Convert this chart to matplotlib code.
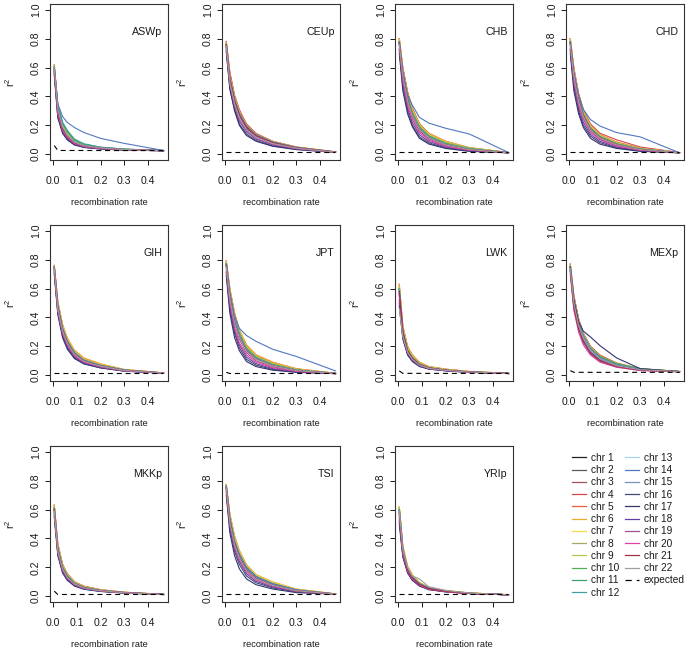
import matplotlib
matplotlib.use("Agg")
import matplotlib.pyplot as plt
from matplotlib.lines import Line2D

plt.rcParams["font.family"] = ["Liberation Sans", "DejaVu Sans"]

RATES = [0.005, 0.02, 0.04, 0.06, 0.09, 0.13, 0.2, 0.3, 0.465]
EXP_RATES = [0.005, 0.02, 0.465]

CHR_LABELS = [f"chr {i}" for i in range(1, 23)]
CHR_COLORS = [
    "#222222", "#5a5a5a", "#a05058", "#d84848", "#e8603c", "#f0a830",
    "#f2dc48", "#a8a862", "#b4cc50", "#50b050", "#3fa070", "#40a0a0",
    "#a4d2f0", "#5078c0", "#7890c0", "#404878", "#34346e", "#6040a0",
    "#a05090", "#e040a0", "#a03048", "#a0a0a0",
]

POPS = ["ASWp", "CEUp", "CHB", "CHD", "GIH", "JPT", "LWK", "MEXp",
        "MKKp", "TSI", "YRIp"]

# r^2 per chromosome (rows chr 1..22), columns follow RATES
ASWP = [
    [.59, .30, .18, .12, .08, .056, .041, .032, .025],
    [.58, .29, .17, .12, .077, .055, .041, .031, .025],
    [.60, .31, .19, .13, .083, .058, .043, .032, .025],
    [.61, .32, .20, .14, .088, .061, .045, .033, .025],
    [.62, .33, .20, .14, .09, .062, .045, .033, .025],
    [.62, .33, .21, .15, .092, .063, .046, .034, .026],
    [.60, .31, .19, .13, .085, .06, .044, .033, .025],
    [.59, .31, .19, .135, .087, .06, .044, .033, .025],
    [.60, .32, .20, .145, .092, .064, .046, .034, .025],
    [.60, .33, .21, .155, .098, .068, .047, .035, .026],
    [.61, .34, .22, .16, .10, .07, .048, .035, .026],
    [.60, .34, .22, .165, .105, .072, .049, .035, .026],
    [.58, .30, .18, .125, .08, .057, .042, .032, .025],
    [.60, .35, .26, .22, .185, .15, .11, .075, .026],
    [.59, .30, .185, .13, .083, .058, .043, .032, .025],
    [.56, .26, .15, .10, .066, .048, .037, .029, .024],
    [.55, .25, .145, .10, .064, .047, .036, .029, .024],
    [.57, .27, .16, .11, .07, .05, .038, .03, .024],
    [.58, .29, .175, .12, .078, .055, .041, .031, .025],
    [.57, .28, .165, .115, .075, .053, .04, .031, .025],
    [.59, .30, .18, .125, .082, .058, .043, .032, .025],
    [.60, .31, .19, .13, .084, .059, .043, .032, .025],
]
CEUP = [
    [.76, .52, .37, .27, .185, .128, .08, .044, .015],
    [.75, .51, .36, .265, .18, .125, .078, .043, .015],
    [.77, .54, .39, .29, .195, .135, .085, .047, .015],
    [.78, .57, .41, .31, .21, .145, .09, .05, .016],
    [.78, .56, .40, .30, .205, .14, .088, .049, .016],
    [.77, .55, .40, .30, .20, .14, .09, .05, .016],
    [.76, .53, .38, .28, .19, .13, .083, .046, .015],
    [.76, .53, .38, .28, .19, .132, .084, .047, .015],
    [.77, .54, .385, .285, .195, .135, .086, .048, .015],
    [.76, .52, .37, .275, .19, .13, .082, .046, .015],
    [.75, .52, .37, .27, .185, .128, .08, .045, .015],
    [.75, .51, .36, .265, .18, .125, .078, .044, .015],
    [.74, .50, .35, .26, .175, .12, .075, .042, .014],
    [.76, .53, .38, .285, .195, .135, .085, .047, .015],
    [.75, .51, .36, .265, .18, .125, .078, .044, .015],
    [.72, .46, .31, .21, .14, .095, .058, .034, .013],
    [.71, .45, .30, .20, .13, .09, .055, .032, .013],
    [.73, .48, .33, .23, .155, .105, .065, .037, .014],
    [.75, .51, .36, .26, .175, .12, .075, .042, .014],
    [.74, .49, .34, .245, .165, .112, .07, .04, .014],
    [.76, .52, .37, .27, .185, .128, .08, .045, .015],
    [.75, .50, .35, .255, .17, .118, .074, .042, .014],
]
CHB = [
    [.78, .56, .39, .28, .18, .12, .07, .035, .01],
    [.77, .55, .38, .275, .175, .118, .068, .034, .01],
    [.79, .58, .41, .30, .195, .13, .078, .038, .011],
    [.80, .60, .43, .32, .21, .14, .085, .042, .012],
    [.80, .60, .43, .32, .21, .145, .09, .045, .012],
    [.80, .59, .42, .315, .205, .142, .09, .046, .012],
    [.79, .58, .41, .305, .20, .135, .083, .042, .011],
    [.78, .57, .40, .295, .195, .13, .08, .045, .011],
    [.79, .58, .41, .30, .198, .133, .082, .042, .011],
    [.78, .57, .40, .29, .19, .127, .076, .038, .011],
    [.77, .56, .39, .285, .185, .123, .073, .036, .01],
    [.77, .55, .385, .28, .18, .12, .07, .035, .01],
    [.76, .54, .375, .27, .175, .115, .067, .033, .01],
    [.78, .57, .41, .34, .255, .215, .18, .14, .012],
    [.77, .55, .38, .275, .178, .118, .069, .034, .01],
    [.72, .47, .30, .20, .12, .078, .044, .022, .01],
    [.70, .44, .28, .19, .11, .07, .04, .02, .01],
    [.73, .49, .32, .22, .135, .088, .05, .025, .01],
    [.76, .53, .36, .255, .16, .105, .06, .03, .01],
    [.75, .51, .34, .24, .15, .097, .055, .028, .01],
    [.77, .55, .38, .27, .172, .113, .066, .033, .01],
    [.76, .54, .37, .265, .17, .112, .065, .032, .01],
]
CHD = [
    [.78, .56, .38, .275, .175, .117, .068, .034, .01],
    [.77, .55, .375, .27, .172, .115, .067, .033, .01],
    [.79, .58, .40, .29, .19, .127, .075, .037, .011],
    [.80, .60, .42, .31, .21, .145, .10, .05, .012],
    [.80, .59, .415, .305, .20, .135, .085, .042, .011],
    [.80, .59, .41, .30, .198, .133, .082, .041, .011],
    [.79, .58, .40, .29, .19, .128, .077, .038, .011],
    [.78, .57, .39, .285, .185, .125, .078, .04, .011],
    [.79, .575, .40, .29, .19, .127, .077, .038, .011],
    [.78, .56, .39, .28, .182, .122, .072, .036, .01],
    [.77, .55, .38, .275, .178, .12, .07, .035, .01],
    [.77, .55, .38, .272, .176, .118, .069, .034, .01],
    [.76, .54, .37, .265, .17, .113, .066, .033, .01],
    [.78, .57, .41, .31, .24, .195, .15, .12, .01],
    [.77, .55, .375, .27, .174, .116, .068, .034, .01],
    [.72, .47, .30, .20, .125, .08, .045, .022, .01],
    [.70, .44, .28, .185, .11, .07, .04, .02, .01],
    [.73, .49, .32, .22, .138, .09, .05, .025, .01],
    [.76, .53, .355, .25, .16, .105, .06, .03, .01],
    [.75, .51, .34, .24, .152, .10, .056, .028, .01],
    [.77, .55, .375, .27, .172, .115, .067, .033, .01],
    [.76, .54, .365, .262, .168, .112, .065, .032, .01],
]
GIH = [
    [.75, .48, .32, .23, .15, .10, .065, .035, .015],
    [.74, .47, .31, .225, .147, .098, .063, .034, .015],
    [.75, .49, .33, .24, .157, .105, .068, .036, .015],
    [.76, .50, .34, .25, .165, .11, .072, .038, .016],
    [.76, .51, .35, .255, .17, .115, .075, .039, .016],
    [.76, .51, .35, .26, .175, .12, .08, .04, .016],
    [.75, .50, .34, .25, .165, .11, .072, .038, .016],
    [.75, .49, .33, .24, .16, .107, .07, .037, .015],
    [.75, .49, .335, .245, .162, .108, .07, .037, .015],
    [.75, .48, .32, .235, .155, .103, .067, .036, .015],
    [.74, .48, .32, .23, .152, .10, .066, .035, .015],
    [.74, .47, .315, .228, .15, .10, .065, .035, .015],
    [.74, .47, .31, .225, .148, .098, .064, .034, .015],
    [.75, .48, .325, .235, .155, .104, .067, .036, .015],
    [.74, .47, .31, .225, .148, .098, .064, .034, .015],
    [.71, .43, .27, .19, .12, .08, .052, .029, .014],
    [.70, .42, .26, .18, .115, .078, .05, .028, .014],
    [.72, .44, .28, .20, .128, .085, .055, .03, .014],
    [.74, .46, .30, .215, .14, .093, .06, .032, .015],
    [.73, .45, .29, .21, .135, .09, .058, .031, .015],
    [.74, .47, .31, .225, .147, .098, .063, .034, .015],
    [.74, .46, .305, .22, .144, .096, .062, .033, .015],
]
JPT = [
    [.77, .56, .39, .28, .18, .12, .07, .035, .012],
    [.76, .55, .38, .275, .176, .118, .068, .034, .012],
    [.78, .58, .41, .30, .195, .13, .078, .039, .012],
    [.79, .59, .42, .31, .205, .137, .083, .042, .013],
    [.79, .60, .43, .31, .21, .14, .09, .045, .013],
    [.79, .60, .43, .315, .21, .142, .09, .045, .013],
    [.78, .58, .41, .30, .198, .132, .08, .04, .012],
    [.77, .57, .40, .29, .19, .128, .077, .039, .012],
    [.78, .58, .41, .30, .195, .13, .078, .04, .012],
    [.77, .57, .40, .29, .188, .125, .075, .038, .012],
    [.77, .56, .39, .285, .183, .122, .072, .036, .012],
    [.77, .56, .39, .28, .18, .12, .07, .035, .012],
    [.76, .55, .38, .27, .175, .116, .068, .034, .012],
    [.77, .57, .41, .325, .275, .235, .18, .13, .03],
    [.76, .55, .38, .275, .176, .117, .068, .034, .012],
    [.71, .46, .29, .19, .11, .07, .04, .022, .011],
    [.69, .43, .26, .17, .095, .06, .035, .02, .011],
    [.72, .48, .31, .21, .125, .08, .046, .025, .011],
    [.75, .53, .36, .25, .155, .10, .058, .03, .012],
    [.74, .50, .33, .225, .14, .09, .052, .027, .011],
    [.76, .54, .37, .265, .17, .113, .066, .033, .012],
    [.75, .53, .36, .26, .165, .11, .064, .032, .012],
]
LWK = [
    [.60, .30, .17, .12, .075, .05, .035, .022, .012],
    [.58, .29, .165, .115, .072, .049, .034, .022, .012],
    [.61, .31, .18, .125, .08, .053, .037, .023, .012],
    [.62, .33, .19, .135, .085, .057, .04, .025, .013],
    [.63, .34, .20, .14, .09, .06, .042, .026, .013],
    [.63, .34, .20, .14, .09, .06, .042, .026, .013],
    [.61, .32, .185, .13, .082, .055, .038, .024, .012],
    [.60, .31, .18, .125, .08, .053, .037, .023, .012],
    [.61, .32, .185, .13, .082, .055, .038, .024, .012],
    [.60, .31, .175, .122, .077, .052, .036, .023, .012],
    [.59, .30, .17, .12, .075, .05, .035, .022, .012],
    [.59, .30, .17, .12, .075, .05, .035, .022, .012],
    [.55, .28, .16, .112, .07, .047, .033, .021, .012],
    [.58, .30, .17, .12, .076, .051, .036, .023, .012],
    [.56, .29, .165, .115, .072, .049, .034, .022, .012],
    [.50, .26, .145, .10, .063, .044, .031, .02, .012],
    [.48, .25, .14, .095, .06, .042, .03, .02, .012],
    [.52, .27, .15, .105, .066, .045, .032, .021, .012],
    [.57, .29, .165, .115, .072, .049, .034, .022, .012],
    [.56, .28, .16, .11, .07, .047, .033, .021, .012],
    [.58, .30, .17, .118, .074, .05, .035, .022, .012],
    [.46, .27, .16, .11, .07, .048, .034, .022, .012],
]
MEXP = [
    [.75, .52, .36, .27, .18, .12, .07, .04, .025],
    [.74, .51, .355, .265, .177, .118, .069, .039, .025],
    [.76, .54, .38, .28, .19, .128, .075, .042, .025],
    [.77, .55, .39, .29, .20, .135, .08, .044, .026],
    [.77, .55, .39, .29, .20, .14, .085, .045, .026],
    [.76, .54, .38, .285, .195, .132, .078, .043, .025],
    [.76, .53, .37, .28, .19, .128, .076, .042, .025],
    [.75, .53, .37, .28, .19, .13, .08, .045, .026],
    [.76, .53, .37, .28, .19, .13, .078, .043, .025],
    [.75, .52, .365, .275, .188, .13, .08, .046, .026],
    [.75, .52, .36, .27, .185, .125, .075, .042, .025],
    [.75, .52, .36, .27, .183, .123, .073, .041, .025],
    [.74, .51, .35, .26, .175, .117, .068, .039, .025],
    [.75, .52, .36, .27, .18, .12, .07, .04, .025],
    [.74, .51, .355, .265, .178, .118, .069, .039, .025],
    [.73, .49, .34, .25, .165, .11, .065, .037, .025],
    [.75, .52, .37, .305, .265, .205, .12, .045, .025],
    [.73, .48, .33, .24, .16, .105, .062, .036, .024],
    [.72, .47, .32, .23, .15, .098, .058, .034, .024],
    [.70, .45, .30, .21, .14, .09, .055, .032, .024],
    [.72, .47, .32, .23, .152, .10, .06, .035, .024],
    [.74, .50, .345, .255, .17, .113, .066, .038, .025],
]
MKKP = [
    [.61, .33, .20, .14, .09, .06, .04, .025, .012],
    [.60, .32, .195, .137, .088, .059, .039, .025, .012],
    [.62, .34, .21, .147, .095, .064, .042, .026, .012],
    [.63, .36, .22, .155, .10, .07, .045, .028, .013],
    [.63, .36, .22, .153, .10, .068, .044, .027, .013],
    [.63, .355, .218, .152, .099, .067, .044, .027, .013],
    [.62, .345, .21, .148, .096, .065, .043, .026, .012],
    [.61, .34, .205, .145, .093, .063, .042, .026, .012],
    [.62, .345, .21, .147, .095, .064, .042, .026, .012],
    [.61, .335, .203, .142, .092, .062, .041, .025, .012],
    [.61, .33, .20, .14, .09, .06, .04, .025, .012],
    [.60, .33, .198, .138, .089, .06, .04, .025, .012],
    [.59, .32, .19, .133, .086, .058, .039, .024, .012],
    [.60, .32, .195, .135, .087, .059, .039, .025, .012],
    [.59, .32, .192, .134, .086, .058, .039, .024, .012],
    [.56, .29, .168, .115, .074, .05, .034, .022, .012],
    [.55, .28, .16, .11, .07, .048, .033, .022, .012],
    [.57, .30, .175, .12, .077, .052, .035, .023, .012],
    [.59, .315, .188, .13, .084, .057, .038, .024, .012],
    [.58, .305, .18, .125, .08, .055, .037, .024, .012],
    [.60, .32, .19, .133, .086, .058, .039, .024, .012],
    [.59, .315, .188, .131, .085, .057, .038, .024, .012],
]
TSI = [
    [.76, .53, .37, .28, .19, .13, .08, .04, .015],
    [.75, .52, .36, .275, .185, .127, .078, .039, .015],
    [.77, .55, .39, .295, .20, .137, .085, .043, .015],
    [.77, .56, .40, .305, .21, .143, .09, .046, .016],
    [.77, .57, .41, .31, .215, .147, .095, .048, .016],
    [.77, .57, .42, .32, .22, .15, .10, .05, .016],
    [.76, .56, .40, .305, .21, .145, .095, .048, .016],
    [.76, .55, .39, .295, .20, .138, .088, .044, .015],
    [.76, .55, .39, .30, .205, .14, .09, .045, .015],
    [.76, .54, .38, .29, .198, .135, .085, .043, .015],
    [.76, .53, .375, .285, .193, .132, .082, .041, .015],
    [.75, .53, .37, .28, .19, .13, .08, .04, .015],
    [.75, .52, .36, .27, .183, .125, .077, .039, .015],
    [.76, .54, .38, .29, .20, .137, .087, .044, .015],
    [.75, .52, .36, .272, .185, .126, .078, .039, .015],
    [.72, .47, .31, .22, .14, .093, .058, .03, .014],
    [.70, .44, .28, .19, .12, .08, .05, .025, .014],
    [.73, .49, .33, .24, .155, .103, .064, .033, .014],
    [.75, .51, .35, .26, .175, .12, .073, .037, .015],
    [.74, .50, .34, .25, .168, .113, .07, .035, .015],
    [.75, .52, .36, .27, .182, .124, .076, .038, .015],
    [.75, .51, .355, .265, .178, .121, .075, .038, .015],
]
YRIP = [
    [.60, .32, .19, .13, .085, .055, .035, .02, .01],
    [.59, .315, .187, .128, .083, .054, .034, .02, .01],
    [.61, .33, .195, .135, .088, .057, .036, .021, .01],
    [.61, .335, .20, .14, .09, .059, .037, .021, .01],
    [.62, .34, .205, .143, .093, .06, .038, .022, .011],
    [.62, .35, .21, .15, .096, .062, .04, .023, .011],
    [.62, .35, .21, .148, .095, .062, .04, .023, .011],
    [.61, .34, .20, .14, .09, .059, .038, .022, .01],
    [.61, .335, .198, .138, .09, .058, .037, .021, .01],
    [.60, .33, .195, .135, .088, .057, .036, .021, .01],
    [.60, .325, .19, .132, .086, .056, .035, .02, .01],
    [.60, .32, .19, .13, .085, .055, .035, .02, .01],
    [.58, .31, .185, .128, .083, .054, .034, .02, .01],
    [.59, .32, .19, .13, .086, .056, .036, .021, .01],
    [.58, .31, .184, .127, .082, .053, .034, .02, .01],
    [.52, .28, .165, .113, .073, .047, .031, .019, .01],
    [.50, .27, .16, .11, .07, .045, .03, .018, .01],
    [.54, .29, .17, .117, .076, .049, .032, .019, .01],
    [.57, .30, .178, .122, .079, .051, .033, .019, .01],
    [.56, .295, .174, .12, .077, .05, .032, .019, .01],
    [.58, .31, .183, .126, .082, .053, .034, .02, .01],
    [.59, .32, .20, .14, .12, .065, .04, .022, .01],
]

# expected r^2, read at EXP_RATES
EXPECTED = [
    [.06, .026, .025], [.015, .015, .015], [.012, .012, .012],
    [.014, .014, .014], [.015, .015, .015], [.02, .012, .012],
    [.03, .013, .012], [.032, .02, .02], [.035, .012, .012],
    [.013, .013, .013], [.012, .012, .012],
]

POP_DATA = [ASWP, CEUP, CHB, CHD, GIH, JPT, LWK, MEXP, MKKP, TSI, YRIP]

W, H = 689, 651
fig = plt.figure(figsize=(W / 100, H / 100), dpi=100)

COL_LEFT = [50, 222, 395, 566]
ROW_TOP = [4, 225, 446]
AX_W, AX_H = 118, 156
TXT = "#1a1a1a"

for k, (name, curves) in enumerate(zip(POPS, POP_DATA)):
    r, c = divmod(k, 4)
    ax = fig.add_axes([COL_LEFT[c] / W, 1 - (ROW_TOP[r] + AX_H) / H,
                       AX_W / W, AX_H / H])
    for vals, col in zip(curves, CHR_COLORS):
        ax.plot(RATES, vals, color=col, lw=0.8)
    ax.plot(EXP_RATES, EXPECTED[k], color="black", lw=0.8,
            dashes=(4.5, 3.5))

    ax.set_xlim(-0.013, 0.484)
    ax.set_ylim(-0.04, 1.04)
    ax.set_xticks([0, 0.1, 0.2, 0.3, 0.4])
    ax.set_xticklabels(["0.0", "0.1", "0.2", "0.3", "0.4"])
    ax.set_yticks([0, 0.2, 0.4, 0.6, 0.8, 1.0])
    ax.set_yticklabels(["0.0", "0.2", "0.4", "0.6", "0.8", "1.0"],
                       rotation=90, va="center")
    ax.tick_params(direction="out", length=3.5, width=0.7, labelsize=7.6,
                   colors=TXT)
    ax.tick_params(axis="x", pad=8)
    ax.tick_params(axis="y", pad=3)
    for s in ax.spines.values():
        s.set_linewidth(0.8)
        s.set_color("#333333")
    ax.set_xlabel("recombination rate", fontsize=6.7, color=TXT, labelpad=9)
    ax.set_ylabel(r"$\mathregular{r^2}$", fontsize=7.6, color=TXT,
                  labelpad=10)
    ax.text(0.955, 0.82, name, transform=ax.transAxes, ha="right",
            va="center", fontsize=7.7, color=TXT)

handles = [Line2D([], [], color=col, lw=0.9) for col in CHR_COLORS]
handles.append(Line2D([], [], color="black", lw=0.9, dashes=(5, 4)))
labels = CHR_LABELS + ["expected"]
fig.legend(handles, labels, ncol=2, loc="upper left",
           bbox_to_anchor=(572 / W, 1 - 453 / H), frameon=False,
           fontsize=7.3, handlelength=1.4, handletextpad=0.5,
           columnspacing=0.5, labelspacing=0.22, borderpad=0,
           borderaxespad=0, labelcolor=TXT)

fig.savefig("out.png", dpi=100)
